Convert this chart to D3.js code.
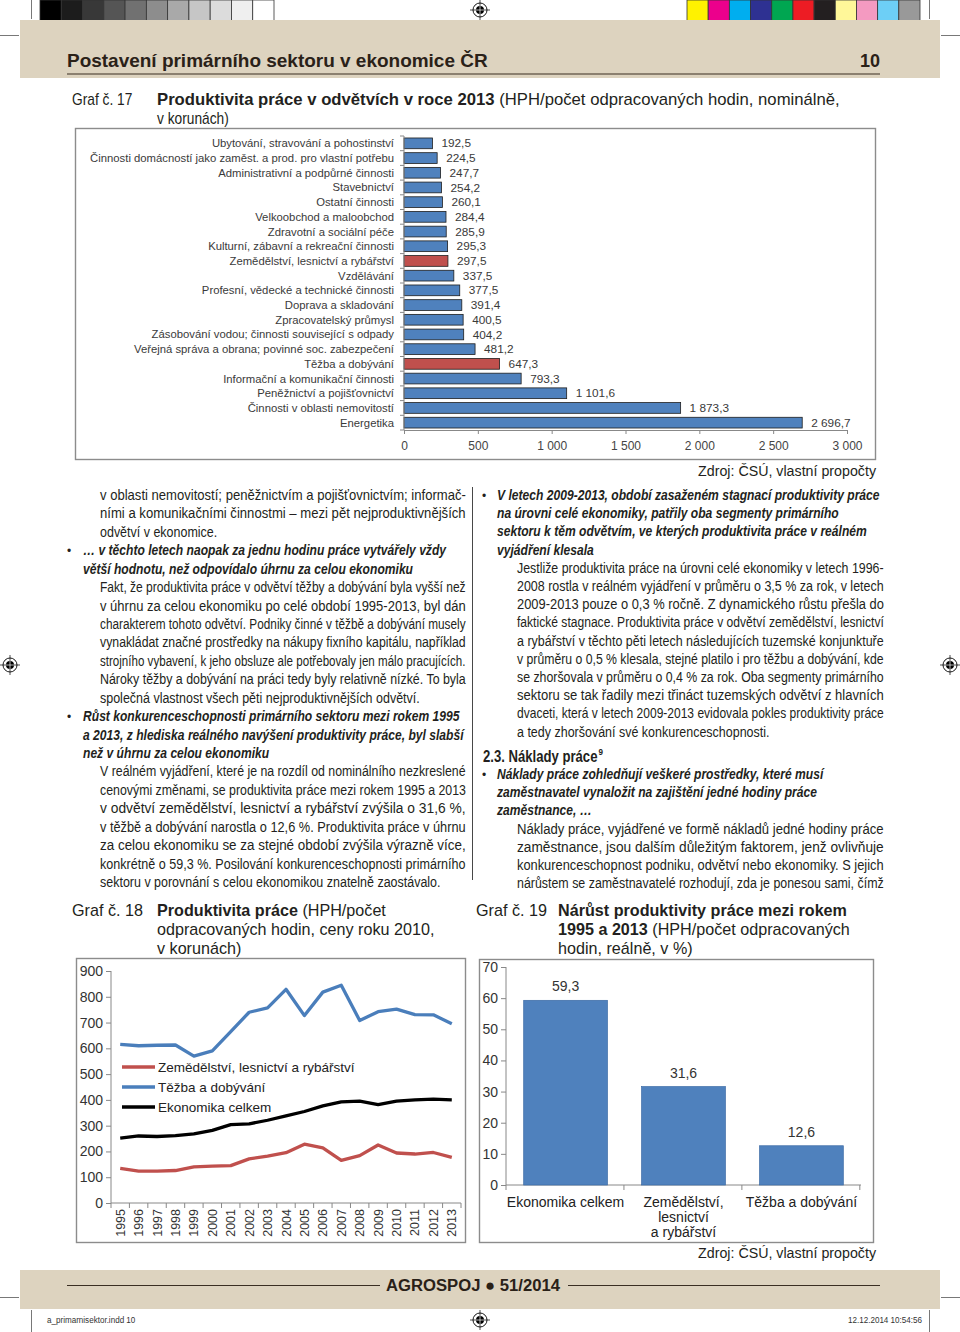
<!DOCTYPE html>
<html><head><meta charset="utf-8">
<script src="https://cdn.jsdelivr.net/npm/d3@7"></script>
<style>
body{margin:0;background:#fff}
svg{display:block}
text{font-family:"Liberation Sans",Arial,Helvetica,sans-serif}
</style>
</head><body>
<svg id="page" width="960" height="1332" viewBox="0 0 960 1332"></svg>
<script>
// ---- chart 17 data
const sectors17 = ["Ubytování, stravování a pohostinství",
  "Činnosti domácností jako zaměst. a prod. pro vlastní potřebu",
  "Administrativní a podpůrné činnosti","Stavebnictví","Ostatní činnosti",
  "Velkoobchod a maloobchod","Zdravotní a sociální péče",
  "Kulturní, zábavní a rekreační činnosti","Zemědělství, lesnictví a rybářství",
  "Vzdělávání","Profesní, vědecké a technické činnosti","Doprava a skladování",
  "Zpracovatelský průmysl","Zásobování vodou; činnosti související s odpady",
  "Veřejná správa a obrana; povinné soc. zabezpečení","Těžba a dobývání",
  "Informační a komunikační činnosti","Peněžnictví a pojišťovnictví",
  "Činnosti v oblasti nemovitostí","Energetika"];
const values17 = [192.5,224.5,247.7,254.2,260.1,284.4,285.9,295.3,297.5,337.5,
  377.5,391.4,400.5,404.2,481.2,647.3,793.3,1101.6,1873.3,2696.7];
const red17 = ["Zemědělství, lesnictví a rybářství","Těžba a dobývání"];
const ticks17 = [0,500,1000,1500,2000,2500,3000];

// ---- chart 18 data
const years18 = [1995,1996,1997,1998,1999,2000,2001,2002,2003,2004,2005,2006,2007,2008,2009,2010,2011,2012,2013];
const zemedelstvi18 = [134,124,124,126,140,143,145,171,182,195,228,214,165,184,225,194,190,196,177];
const tezba18 = [615,610,612,613,570,590,665,740,757,829,727,818,845,708,742,752,731,730,695];
const ekonomika18 = [252,260,258,261,268,282,304,307,321,338,355,377,392,395,382,395,400,403,400];
const series18 = ["Zemědělství, lesnictví a rybářství","Těžba a dobývání","Ekonomika celkem"];
const ticks18 = [0,100,200,300,400,500,600,700,800,900];

// ---- chart 19 data
const cats19 = ["Ekonomika celkem","Zemědělství, lesnictví a rybářství","Těžba a dobývání"];
const catLines19 = [["Ekonomika celkem"],["Zemědělství,","lesnictví","a rybářství"],["Těžba a dobývání"]];
const values19 = [59.3,31.6,12.6];
const ticks19 = [0,10,20,30,40,50,60,70];

// ---- page text
const leftCol = [
 ["p","v oblasti nemovitostí; peněžnictvím a pojišťovnictvím; informač-",1],
 ["p","ními a komunikačními činnostmi – mezi pět nejproduktivnějších",1],
 ["p","odvětví v ekonomice.",0],
 ["hb","… v těchto letech naopak za jednu hodinu práce vytvářely vždy",0],
 ["h","větší hodnotu, než odpovídalo úhrnu za celou ekonomiku",0],
 ["p","Fakt, že produktivita práce v odvětví těžby a dobývání byla vyšší než",1],
 ["p","v úhrnu za celou ekonomiku po celé období 1995-2013, byl dán",1],
 ["p","charakterem tohoto odvětví. Podniky činné v těžbě a dobývání musely",1],
 ["p","vynakládat značné prostředky na nákupy fixního kapitálu, například",1],
 ["p","strojního vybavení, k jeho obsluze ale potřebovaly jen málo pracujících.",1],
 ["p","Nároky těžby a dobývání na práci tedy byly relativně nízké. To byla",1],
 ["p","společná vlastnost všech pěti nejproduktivnějších odvětví.",0],
 ["hb","Růst konkurenceschopnosti primárního sektoru mezi rokem 1995",0],
 ["h","a 2013, z hlediska reálného navýšení produktivity práce, byl slabší",0],
 ["h","než v úhrnu za celou ekonomiku",0],
 ["p","V reálném vyjádření, které je na rozdíl od nominálního nezkreslené",1],
 ["p","cenovými změnami, se produktivita práce mezi rokem 1995 a 2013",1],
 ["p","v odvětví zemědělství, lesnictví a rybářství zvýšila o 31,6 %,",1],
 ["p","v těžbě a dobývání narostla o  12,6 %. Produktivita práce v úhrnu",1],
 ["p","za celou ekonomiku se za stejné období zvýšila výrazně více,",1],
 ["p","konkrétně o 59,3 %. Posilování konkurenceschopnosti primárního",1],
 ["p","sektoru v porovnání s celou ekonomikou znatelně zaostávalo.",0]
];
const rightCol = [
 ["hb","V letech 2009-2013, období zasaženém stagnací produktivity práce",0],
 ["h","na úrovni celé ekonomiky, patřily oba segmenty primárního",0],
 ["h","sektoru k těm odvětvím, ve kterých produktivita práce v reálném",0],
 ["h","vyjádření klesala",0],
 ["p","Jestliže produktivita práce na úrovni celé ekonomiky v letech 1996-",1],
 ["p","2008 rostla v reálném vyjádření v průměru o 3,5 % za rok, v letech",1],
 ["p","2009-2013 pouze o 0,3 % ročně. Z dynamického růstu přešla do",1],
 ["p","faktické stagnace. Produktivita práce v odvětví zemědělství, lesnictví",1],
 ["p","a rybářství v těchto pěti letech následujících tuzemské konjunktuře",1],
 ["p","v průměru o 0,5 % klesala, stejné platilo i pro těžbu a dobývání, kde",1],
 ["p","se zhoršovala v průměru o 0,4 % za rok. Oba segmenty primárního",1],
 ["p","sektoru se tak řadily mezi třináct tuzemských odvětví z hlavních",1],
 ["p","dvaceti, která v letech 2009-2013 evidovala pokles produktivity práce",1],
 ["p","a tedy zhoršování své konkurenceschopnosti.",0],
 ["s","2.3. Náklady práce",0],
 ["hb","Náklady práce zohledňují veškeré prostředky, které musí",0],
 ["h","zaměstnavatel vynaložit na zajištění jedné hodiny práce",0],
 ["h","zaměstnance, …",0],
 ["p","Náklady práce, vyjádřené ve formě nákladů jedné hodiny práce",1],
 ["p","zaměstnance, jsou dalším důležitým faktorem, jenž ovlivňuje",1],
 ["p","konkurenceschopnost podniku, odvětví nebo ekonomiky. S jejich",1],
 ["p","nárůstem se zaměstnavatelé rozhodují, zda je ponesou sami, čímž",1]
];
const grays = ["#000","#1c1c1c","#383838","#555","#717171","#8d8d8d","#a9a9a9","#c6c6c6","#dcdcdc","#efefef","#fff"];
const inks = ["#fff200","#ec008c","#00aeef","#2e3192","#00a651","#ed1c24","#231f20","#fff799","#f49ac1","#6dcff6","#999"];

const svg = d3.select("#page");
const cz = d3.formatLocale({decimal:",", thousands:" ", grouping:[3], currency:["","Kč"]});
const f1 = cz.format(",.1f"), f0 = cz.format(",.0f");
const BLUE = "#4f81bd", RED = "#c0504d", BEIGE = "#ddd3bf", INK = "#231f20";

function measure(str, size, weight, style) {
  const t = svg.append("text").attr("font-size", size)
    .attr("font-weight", weight || "normal").attr("font-style", style || "normal").text(str);
  const w = t.node().getComputedTextLength();
  t.remove();
  return w;
}
// text line, scaled horizontally to width w or to natural*k
function line(g, x, y, parts, o) {
  const t = g.append("text").attr("font-size", o.size)
    .attr("fill", o.fill || INK).attr("text-anchor", o.anchor || "start");
  parts.forEach(p => {
    const s = t.append("tspan").text(p.t);
    if (p.b) s.attr("font-weight", "bold");
    if (p.i) s.attr("font-style", "italic");
  });
  const w = t.node().getComputedTextLength();
  const target = o.w != null ? o.w : w * (o.k == null ? 1 : o.k);
  t.attr("transform", `translate(${x},${y}) scale(${target / w},1)`);
  return target;
}
function regMark(x, y) {
  const g = svg.append("g").attr("transform", `translate(${x},${y})`);
  g.append("circle").attr("r", 7).attr("fill", "#fff").attr("stroke", "#000").attr("stroke-width", 0.9);
  g.append("circle").attr("r", 4).attr("fill", "#000");
  g.append("path").attr("d", "M-10,0H10M0,-10V10").attr("stroke", "#000").attr("stroke-width", 0.7);
  g.append("path").attr("d", "M-4,0H4M0,-4V4").attr("stroke", "#fff").attr("stroke-width", 0.7);
}

// ---- print marks, bands
const sw = d3.scaleBand().domain(d3.range(11)).range([40, 274]);
svg.append("g").selectAll("rect").data(grays).join("rect")
  .attr("x", (d, i) => sw(i)).attr("y", 0).attr("width", sw.bandwidth()).attr("height", 21)
  .attr("fill", d => d).attr("stroke", "#333").attr("stroke-width", 0.8);
const sw2 = d3.scaleBand().domain(d3.range(11)).range([687, 920]);
svg.append("g").selectAll("rect").data(inks).join("rect")
  .attr("x", (d, i) => sw2(i)).attr("y", 0).attr("width", sw2.bandwidth()).attr("height", 21)
  .attr("fill", d => d).attr("stroke", "#333").attr("stroke-width", 0.8);
svg.append("rect").attr("x", 20).attr("y", 20).attr("width", 920).attr("height", 58).attr("fill", BEIGE);
svg.append("rect").attr("x", 20).attr("y", 1270).attr("width", 920).attr("height", 39).attr("fill", BEIGE);
svg.append("path").attr("d", "M0,35.5H19M941,35.5H960M0,1297.5H19M941,1297.5H960M31.5,0V19M929.5,0V19M31.5,1310V1332M929.5,1310V1332")
  .attr("stroke", "#555").attr("stroke-width", 0.8);
[[480, 10], [10, 665], [950, 665], [480, 1320]].forEach(p => regMark(p[0], p[1]));

line(svg, 67, 67, [{t: "Postavení primárního sektoru v ekonomice ČR", b: 1}], {size: 18, w: 421, fill: "#2a2118"});
line(svg, 880, 67, [{t: "10", b: 1}], {size: 18, anchor: "end", fill: "#2a2118"});
svg.append("line").attr("x1", 67).attr("x2", 880).attr("y1", 74).attr("y2", 74).attr("stroke", "#3a2e22").attr("stroke-width", 1.2);

svg.append("path").attr("d", "M67,1285.5H380M568,1285.5H880").attr("stroke", "#3a2e22").attr("stroke-width", 1.1);
line(svg, 386, 1291, [{t: "AGROSPOJ ● 51/2014", b: 1}], {size: 17, w: 174, fill: "#2a2118"});
line(svg, 47, 1323, [{t: "a_primarnisektor.indd   10"}], {size: 8.5, k: 0.95, fill: "#333"});
line(svg, 922, 1323, [{t: "12.12.2014   10:54:56"}], {size: 8.5, k: 0.95, anchor: "end", fill: "#333"});

// ---- captions
line(svg, 72, 105, [{t: "Graf č. 17"}], {size: 16, k: 0.86});
line(svg, 157, 105, [{t: "Produktivita práce v odvětvích v roce 2013", b: 1}, {t: " (HPH/počet odpracovaných hodin, nominálně,"}], {size: 16, w: 683});
line(svg, 157, 124, [{t: "v korunách)"}], {size: 16, k: 0.86});

line(svg, 72, 916, [{t: "Graf č. 18"}], {size: 17, k: 0.95});
line(svg, 157, 916, [{t: "Produktivita práce", b: 1}, {t: " (HPH/počet"}], {size: 17, k: 0.95});
line(svg, 157, 935, [{t: "odpracovaných hodin, ceny roku 2010,"}], {size: 17, k: 0.95});
line(svg, 157, 954, [{t: "v korunách)"}], {size: 17, k: 0.95});
line(svg, 476, 916, [{t: "Graf č. 19"}], {size: 17, k: 0.95});
line(svg, 558, 916, [{t: "Nárůst produktivity práce mezi rokem", b: 1}], {size: 17, k: 0.95});
line(svg, 558, 935, [{t: "1995 a 2013", b: 1}, {t: " (HPH/počet odpracovaných"}], {size: 17, k: 0.95});
line(svg, 558, 954, [{t: "hodin, reálně, v %)"}], {size: 17, k: 0.95});

line(svg, 876, 476, [{t: "Zdroj: ČSÚ, vlastní propočty"}], {size: 15, k: 0.95, anchor: "end"});
line(svg, 876, 1258, [{t: "Zdroj: ČSÚ, vlastní propočty"}], {size: 15, k: 0.95, anchor: "end"});

// ---- text columns
const BODY = 14.5;
const kHead = 383 / measure(rightCol[0][1], BODY, "bold", "italic");
function column(rows, o) {
  const g = svg.append("g");
  const nat = rows.map(r => measure(r[1], BODY, r[0] === "p" ? "normal" : "bold", r[0] === "p" ? "normal" : "italic"));
  const kBody = d3.mean(rows.map((r, i) => r[2] ? (o.right - o.xBody) / nat[i] : null).filter(v => v)) * 0.99;
  let y = o.y0;
  rows.forEach((r, i) => {
    if (i > 0) y += o.step;
    if (r[0] === "s") {
      y += o.secGap;
      const w = line(g, o.xSec, y, [{t: r[1], b: 1}], {size: 16, k: 0.82});
      line(g, o.xSec + w + 1, y - 6.5, [{t: "9", b: 1}], {size: 9.5, k: 0.85});
      y -= o.step - o.afterSec;
      return;
    }
    if (r[0] === "p") {
      line(g, o.xBody, y, [{t: r[1]}], r[2] ? {size: BODY, w: o.right - o.xBody} : {size: BODY, k: kBody});
    } else {
      if (r[0] === "hb") line(g, o.xBullet, y, [{t: "•"}], {size: 12});
      line(g, o.xHead, y, [{t: r[1], b: 1, i: 1}], {size: BODY, k: kHead});
    }
  });
}
column(leftCol, {xBody: 100, right: 466, xHead: 83, xBullet: 67, y0: 500, step: 18.43});
column(rightCol, {xBody: 517, right: 884, xHead: 497, xBullet: 482, xSec: 483, y0: 500, step: 18.2, secGap: 6.8, afterSec: 17.3});
svg.append("line").attr("x1", 472.5).attr("x2", 472.5).attr("y1", 487).attr("y2", 880).attr("stroke", "#333").attr("stroke-width", 0.9);

// ---- Graf 17
const c17 = svg.append("g");
c17.append("rect").attr("x", 75.5).attr("y", 128.5).attr("width", 800).attr("height", 331)
  .attr("fill", "none").attr("stroke", "#8c8c8c").attr("stroke-width", 1.4);
const x17 = d3.scaleLinear().domain([0, 3000]).range([404, 847]);
const y17 = d3.scaleBand().domain(sectors17).range([136, 430]).paddingInner(0.27).paddingOuter(0.135);
c17.selectAll("rect.bar").data(sectors17).join("rect").attr("class", "bar")
  .attr("x", x17(0)).attr("y", d => y17(d))
  .attr("width", (d, i) => x17(values17[i]) - x17(0)).attr("height", y17.bandwidth())
  .attr("fill", d => red17.includes(d) ? RED : BLUE).attr("stroke", "#1e1e1e").attr("stroke-width", 0.8);
c17.append("g").selectAll("line").data(d3.range(sectors17.length + 1)).join("line")
  .attr("x1", x17(0) - 4).attr("x2", x17(0))
  .attr("y1", i => y17.range()[0] + i * y17.step()).attr("y2", i => y17.range()[0] + i * y17.step())
  .attr("stroke", "#888");
c17.append("line").attr("x1", x17(0)).attr("x2", x17(0)).attr("y1", y17.range()[0]).attr("y2", y17.range()[1]).attr("stroke", "#888");
const ax17 = c17.append("g").attr("transform", `translate(0,${y17.range()[1]})`)
  .call(d3.axisBottom(x17).tickValues(ticks17).tickFormat(f0).tickSize(4).tickPadding(7.5));
ax17.selectAll("path,line").attr("stroke", "#888");
ax17.selectAll("text").attr("font-size", 12).attr("fill", "#444").attr("font-family", null);
c17.selectAll("text.cat").data(sectors17).join("text").attr("class", "cat")
  .attr("x", 394).attr("y", d => y17(d) + y17.bandwidth() / 2).attr("dy", "0.35em")
  .attr("text-anchor", "end").attr("font-size", 11.3).attr("fill", "#3a3a3a").text(d => d);
c17.selectAll("text.val").data(values17).join("text").attr("class", "val")
  .attr("x", d => x17(d) + 9).attr("y", (d, i) => y17(sectors17[i]) + y17.bandwidth() / 2).attr("dy", "0.35em")
  .attr("font-size", 11.8).attr("fill", "#3a3a3a").text(d => f1(d));

// ---- Graf 18
const c18 = svg.append("g");
c18.append("rect").attr("x", 76.5).attr("y", 958.5).attr("width", 389).attr("height", 284)
  .attr("fill", "none").attr("stroke", "#8c8c8c").attr("stroke-width", 1.4);
const x18 = d3.scaleBand().domain(years18).range([111, 461]);
const y18 = d3.scaleLinear().domain([0, 900]).range([1203, 971]);
const ay18 = c18.append("g").attr("transform", `translate(${x18.range()[0]},0)`)
  .call(d3.axisLeft(y18).tickValues(ticks18).tickSize(5).tickPadding(3).tickFormat(d3.format("d")));
ay18.selectAll("path,line").attr("stroke", "#888");
ay18.select(".domain").attr("d", `M0,${y18(900)}V${y18(0)}`);
ay18.selectAll("text").attr("font-size", 14).attr("fill", "#333").attr("font-family", null);
c18.append("line").attr("x1", x18.range()[0]).attr("x2", x18.range()[1]).attr("y1", y18(0)).attr("y2", y18(0)).attr("stroke", "#888");
c18.append("g").selectAll("line").data(d3.range(years18.length + 1)).join("line")
  .attr("x1", i => x18.range()[0] + i * x18.step()).attr("x2", i => x18.range()[0] + i * x18.step())
  .attr("y1", y18(0)).attr("y2", y18(0) + 5).attr("stroke", "#888");
c18.selectAll("text.yr").data(years18).join("text").attr("class", "yr")
  .attr("transform", d => `translate(${x18(d) + x18.bandwidth() / 2 + 4.5},${y18(0) + 6}) rotate(-90)`)
  .attr("text-anchor", "end").attr("font-size", 12.5).attr("fill", "#333").text(d => d);
const lineGen = d3.line().x((d, i) => x18(years18[i]) + x18.bandwidth() / 2).y(d => y18(d));
const cols18 = [RED, "#4a7ebb", "#000"];
[zemedelstvi18, tezba18, ekonomika18].forEach((s, k) => {
  c18.append("path").attr("d", lineGen(s)).attr("fill", "none").attr("stroke", cols18[k])
    .attr("stroke-width", 3.3).attr("stroke-linejoin", "round");
});
const leg = c18.append("g").selectAll("g").data(series18).join("g")
  .attr("transform", (d, i) => `translate(122,${1067 + i * 20})`);
leg.append("line").attr("x1", 0).attr("x2", 33).attr("stroke", (d, i) => cols18[i]).attr("stroke-width", 3.3);
leg.append("text").attr("x", 36).attr("dy", "0.35em").attr("font-size", 13.5).attr("fill", "#222").text(d => d);

// ---- Graf 19
const c19 = svg.append("g");
c19.append("rect").attr("x", 479.5).attr("y", 959.5).attr("width", 394).attr("height", 283)
  .attr("fill", "none").attr("stroke", "#8c8c8c").attr("stroke-width", 1.4);
const x19 = d3.scaleBand().domain(cats19).range([506, 861]).paddingInner(0.29).paddingOuter(0.15);
const y19 = d3.scaleLinear().domain([0, 70]).range([1185, 967]);
const ay19 = c19.append("g").attr("transform", `translate(${x19.range()[0]},0)`)
  .call(d3.axisLeft(y19).tickValues(ticks19).tickSize(5).tickPadding(3));
ay19.selectAll("path,line").attr("stroke", "#888");
ay19.select(".domain").attr("d", `M0,${y19(70)}V${y19(0)}`);
ay19.selectAll("text").attr("font-size", 14).attr("fill", "#333").attr("font-family", null);
c19.append("line").attr("x1", x19.range()[0]).attr("x2", x19.range()[1]).attr("y1", y19(0)).attr("y2", y19(0)).attr("stroke", "#888");
c19.append("g").selectAll("line").data(d3.range(cats19.length + 1)).join("line")
  .attr("x1", i => x19.range()[0] + i * x19.step()).attr("x2", i => x19.range()[0] + i * x19.step())
  .attr("y1", y19(0)).attr("y2", y19(0) + 5).attr("stroke", "#888");
c19.selectAll("rect.bar").data(values19).join("rect").attr("class", "bar")
  .attr("x", (d, i) => x19(cats19[i])).attr("y", d => y19(d))
  .attr("width", x19.bandwidth()).attr("height", d => y19(0) - y19(d))
  .attr("fill", BLUE).attr("stroke", "#3b6aa5").attr("stroke-width", 0.7);
c19.selectAll("text.val").data(values19).join("text").attr("class", "val")
  .attr("x", (d, i) => x19(cats19[i]) + x19.bandwidth() / 2).attr("y", d => y19(d) - 9)
  .attr("text-anchor", "middle").attr("font-size", 14).attr("fill", "#333").text(d => f1(d));
c19.selectAll("text.cat").data(catLines19).join("text").attr("class", "cat")
  .attr("x", (d, i) => x19(cats19[i]) + x19.bandwidth() / 2).attr("y", y19(0) + 22)
  .attr("text-anchor", "middle").attr("font-size", 14).attr("fill", "#222")
  .selectAll("tspan").data(d => d).join("tspan")
  .attr("x", function () { return this.parentNode.getAttribute("x"); })
  .attr("dy", (d, i) => i ? 15 : 0).text(d => d);
</script>
</body></html>
